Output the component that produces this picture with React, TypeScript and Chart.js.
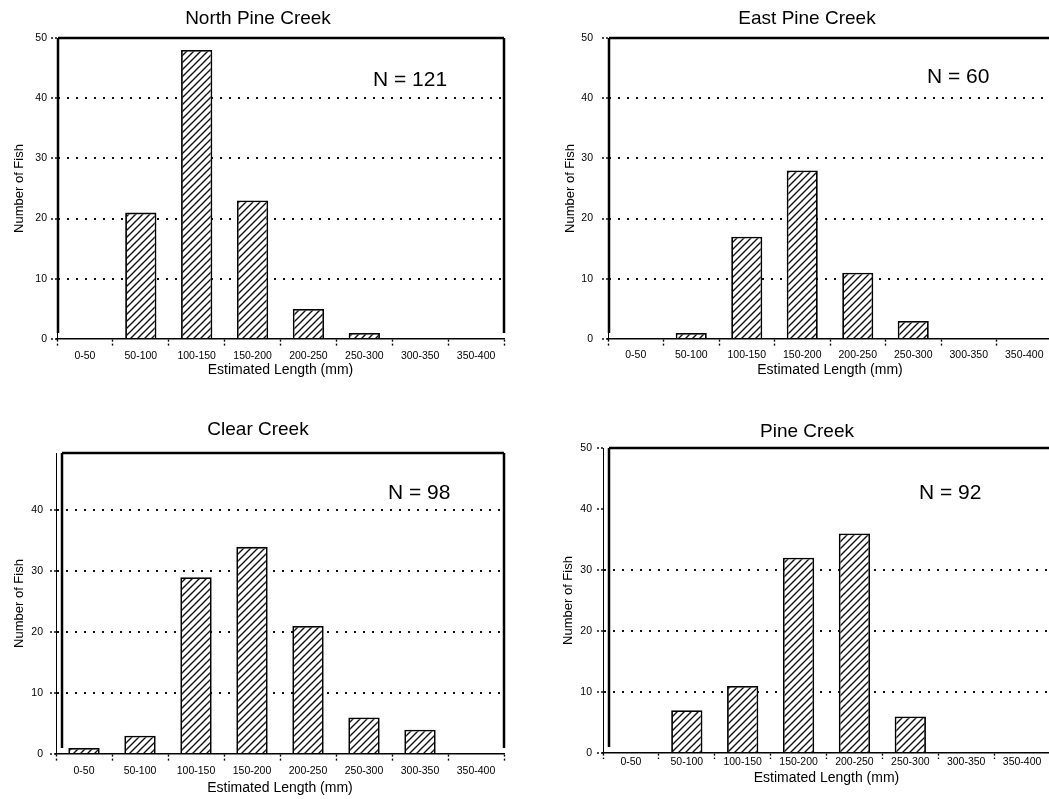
import React, { useEffect, useRef } from "react";
import { Chart, registerables } from "chart.js";

Chart.register(...registerables);

// ---------- data ----------
const categories = ["0-50", "50-100", "100-150", "150-200", "200-250", "250-300", "300-350", "350-400"];
const northPineCounts = [0, 21, 48, 23, 5, 1, 0, 0];
const eastPineCounts = [0, 1, 17, 28, 11, 3, 0, 0];
const clearCreekCounts = [1, 3, 29, 34, 21, 6, 4, 0];
const pineCreekCounts = [0, 7, 11, 32, 36, 6, 0, 0];
const panelTitles = ["North Pine Creek", "East Pine Creek", "Clear Creek", "Pine Creek"];
const sampleSizeLabels = ["N = 121", "N = 60", "N = 98", "N = 92"];
const yTickValues = [0, 10, 20, 30, 40, 50];
const xAxisTitle = "Estimated Length (mm)";
const yAxisTitle = "Number of Fish";

const FONT = "'Liberation Sans', Arial, Helvetica, sans-serif";

// ---------- layout ----------
type PanelCfg = {
  counts: number[];
  title: string;
  n: string;
  ox: number; oy: number; w: number; h: number;
  L: number; R: number; T: number; B: number;
  yMax: number;
  grid: number[];
  frameX: number;
  rightFrame: boolean;
  titleX: number; titleY: number;
  nX: number; nY: number;
  yTitleX: number;
  yLabelRight: number;
  xTick: number; xPad: number;
  xTitleY: number;
};

const panels: PanelCfg[] = [
  {
    counts: northPineCounts, title: panelTitles[0], n: sampleSizeLabels[0],
    ox: 0, oy: 0, w: 520, h: 395, L: 57, R: 504, T: 38, B: 339, yMax: 50,
    grid: [10, 20, 30, 40], frameX: 58, rightFrame: true,
    titleX: 258, titleY: 19, nX: 373, nY: 80, yTitleX: 19, yLabelRight: 47,
    xTick: 8, xPad: 3, xTitleY: 370,
  },
  {
    counts: eastPineCounts, title: panelTitles[1], n: sampleSizeLabels[1],
    ox: 520, oy: 0, w: 540, h: 395, L: 608, R: 1052, T: 38, B: 339, yMax: 50,
    grid: [10, 20, 30, 40], frameX: 609, rightFrame: false,
    titleX: 807, titleY: 19, nX: 927, nY: 77, yTitleX: 570, yLabelRight: 593,
    xTick: 8, xPad: 2, xTitleY: 370,
  },
  {
    counts: clearCreekCounts, title: panelTitles[2], n: sampleSizeLabels[2],
    ox: 0, oy: 400, w: 520, h: 399, L: 56, R: 504, T: 453, B: 754, yMax: 49.4,
    grid: [10, 20, 30, 40], frameX: 62, rightFrame: true,
    titleX: 258, titleY: 430, nX: 388, nY: 493, yTitleX: 19, yLabelRight: 43,
    xTick: 8, xPad: 3, xTitleY: 788,
  },
  {
    counts: pineCreekCounts, title: panelTitles[3], n: sampleSizeLabels[3],
    ox: 520, oy: 400, w: 540, h: 399, L: 603, R: 1050, T: 448, B: 753, yMax: 50,
    grid: [10, 20, 30], frameX: 609, rightFrame: false,
    titleX: 807, titleY: 432, nX: 919, nY: 493, yTitleX: 568, yLabelRight: 592,
    xTick: 6, xPad: -3, xTitleY: 778,
  },
];

function makeHatch(): CanvasPattern | string {
  const s = 7;
  const c = document.createElement("canvas");
  c.width = s;
  c.height = s;
  const g = c.getContext("2d");
  if (!g) return "#fff";
  g.fillStyle = "#fff";
  g.fillRect(0, 0, s, s);
  g.strokeStyle = "#111";
  g.lineWidth = 1.4;
  g.beginPath();
  g.moveTo(-1, s + 1);
  g.lineTo(s + 1, -1);
  g.moveTo(-1, 1);
  g.lineTo(1, -1);
  g.moveTo(s - 1, s + 1);
  g.lineTo(s + 1, s - 1);
  g.stroke();
  return g.createPattern(c, "repeat") || "#fff";
}

function Panel({ p }: { p: PanelCfg }) {
  const ref = useRef<HTMLCanvasElement>(null);

  useEffect(() => {
    const canvas = ref.current;
    if (!canvas) return;
    const yTitleSize = 13;
    const xTitleSize = 14;

    const overlay = {
      id: "overlay",
      afterDraw(chart: any) {
        const ctx = chart.ctx as CanvasRenderingContext2D;
        const a = chart.chartArea;
        ctx.save();
        ctx.strokeStyle = "#000";
        ctx.lineWidth = 2.5;
        ctx.beginPath();
        ctx.moveTo(p.frameX - p.ox, a.top);
        ctx.lineTo(p.rightFrame ? a.right : p.w, a.top);
        ctx.moveTo(p.frameX - p.ox, a.top);
        ctx.lineTo(p.frameX - p.ox, a.bottom - 6);
        if (p.rightFrame) {
          ctx.moveTo(a.right, a.top);
          ctx.lineTo(a.right, a.bottom - 6);
        }
        ctx.stroke();
        ctx.fillStyle = "#000";
        ctx.textAlign = "center";
        ctx.textBaseline = "middle";
        ctx.font = `19px ${FONT}`;
        ctx.fillText(p.title, p.titleX - p.ox, p.titleY - p.oy);
        ctx.textAlign = "left";
        ctx.font = `21px ${FONT}`;
        ctx.fillText(p.n, p.nX - p.ox, p.nY - p.oy);
        ctx.restore();
      },
    };

    const chart = new Chart(canvas, {
      type: "bar",
      data: {
        labels: categories,
        datasets: [
          {
            data: p.counts,
            backgroundColor: makeHatch() as any,
            borderColor: "#000",
            borderWidth: 1.8,
            barPercentage: 0.56,
            categoryPercentage: 1,
          },
        ],
      },
      options: {
        responsive: false,
        animation: false,
        devicePixelRatio: 1,
        layout: {
          padding: { left: 0, top: p.T - p.oy, right: p.ox + p.w - p.R, bottom: 0 },
        },
        plugins: {
          legend: { display: false },
          tooltip: { enabled: false },
          title: { display: false },
        },
        scales: {
          x: {
            afterFit(scale: any) {
              scale.height = p.oy + p.h - p.B;
            },
            ticks: {
              color: "#000",
              font: { family: FONT, size: 10.5 },
              padding: p.xPad,
              maxRotation: 0,
              autoSkip: false,
            },
            grid: {
              offset: true,
              drawOnChartArea: false,
              drawTicks: true,
              tickLength: p.xTick,
              tickColor: "#000",
              tickWidth: 1.4,
              tickBorderDash: [2, 2],
            },
            border: { display: true, color: "#000", width: 1.6 },
            title: {
              display: true,
              text: xAxisTitle,
              color: "#000",
              font: { family: FONT, size: xTitleSize },
              padding: { top: 0, bottom: p.oy + p.h - p.xTitleY - (xTitleSize * 1.2) / 2 },
            },
          },
          y: {
            min: 0,
            max: p.yMax,
            afterFit(scale: any) {
              scale.width = p.L - p.ox;
            },
            afterBuildTicks(scale: any) {
              scale.ticks = yTickValues.filter((v) => v <= p.yMax).map((v) => ({ value: v }));
            },
            ticks: {
              color: "#000",
              font: { family: FONT, size: 10.5 },
              padding: p.L - p.yLabelRight - 6,
            },
            grid: {
              color: (c: any) => (c.tick && p.grid.includes(c.tick.value) ? "#111" : "rgba(0,0,0,0)"),
              lineWidth: 2,
              drawTicks: true,
              tickLength: 6,
              tickColor: "#000",
              tickWidth: 1.4,
              tickBorderDash: [2, 2],
            },
            border: { display: true, color: "#000", width: 1, dash: [2, 7] },
            title: {
              display: true,
              text: yAxisTitle,
              color: "#000",
              font: { family: FONT, size: yTitleSize },
              padding: { top: p.yTitleX - p.ox - (yTitleSize * 1.2) / 2, bottom: 0 },
            },
          },
        },
      },
      plugins: [overlay],
    });
    return () => chart.destroy();
  }, []);

  return (
    <canvas
      ref={ref}
      width={p.w}
      height={p.h}
      style={{ position: "absolute", left: p.ox, top: p.oy, width: p.w, height: p.h }}
    />
  );
}

export default function App() {
  return (
    <div
      style={{
        position: "absolute",
        left: 0,
        top: 0,
        width: 1049,
        height: 799,
        overflow: "hidden",
        background: "#fff",
      }}
    >
      {panels.map((p, i) => (
        <Panel key={i} p={p} />
      ))}
    </div>
  );
}
